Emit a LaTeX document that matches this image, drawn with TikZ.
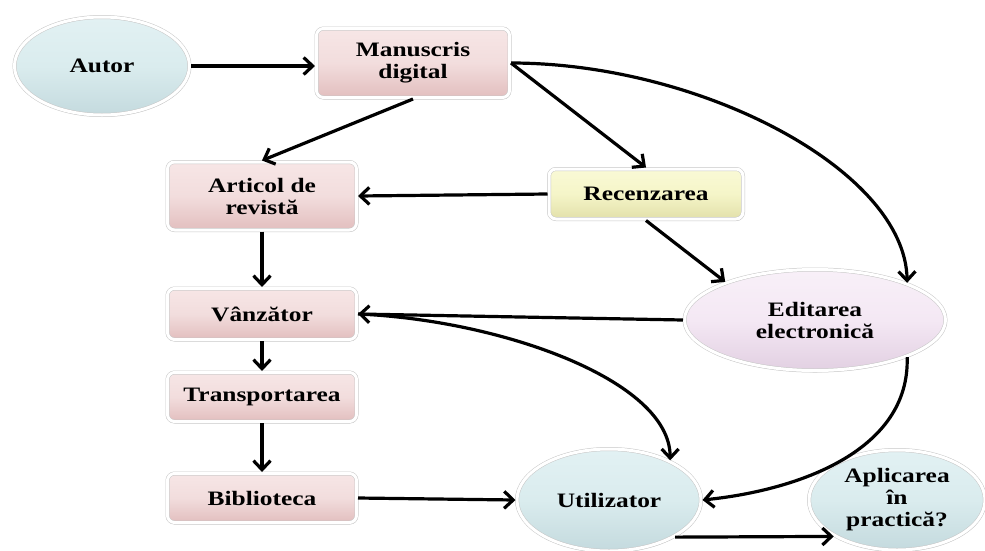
\documentclass[tikz,border=0pt]{standalone}
\usepackage{fontspec}
\setmainfont{Liberation Serif}[FakeStretch=1.24]
\usetikzlibrary{arrows.meta,shapes.geometric,shadows}
\definecolor{pk}{RGB}{242,221,221}
\definecolor{pkL}{RGB}{247,230,230}
\definecolor{pkD}{RGB}{226,190,190}
\definecolor{yl}{RGB}{245,245,200}
\definecolor{ylL}{RGB}{249,249,214}
\definecolor{ylD}{RGB}{226,224,170}
\definecolor{bl}{RGB}{218,236,238}
\definecolor{blL}{RGB}{226,241,243}
\definecolor{blD}{RGB}{196,218,222}
\definecolor{pu}{RGB}{244,232,244}
\definecolor{puL}{RGB}{248,240,248}
\definecolor{puD}{RGB}{226,208,226}
\begin{document}
\begin{tikzpicture}[x=1pt,y=-1pt,
  lbl/.style={font=\fontsize{20.5}{22}\selectfont\bfseries, align=center, inner sep=0pt, outer sep=1.5pt},
  halo/.style={draw=gray!45, line width=0.5pt, double=white, double distance=3pt},
  shad/.style={drop shadow={opacity=0.22, shadow xshift=0.8pt, shadow yshift=-1.8pt}},
  pbox/.style={lbl, halo, shad, rectangle, rounded corners=7pt, top color=pkL, bottom color=pkD, middle color=pk},
  ybox/.style={lbl, halo, shad, rectangle, rounded corners=7pt, top color=ylL, bottom color=ylD, middle color=yl},
  bell/.style={lbl, halo, shad, ellipse, top color=blL, bottom color=blD, middle color=bl},
  pell/.style={lbl, halo, shad, ellipse, top color=puL, bottom color=puD, middle color=pu},
  arr/.style={line width=3.2pt, -{Straight Barb[length=9pt,width=17pt]}}
]
\useasboundingbox (0,0) rectangle (985,550);
\clip (0,0) rectangle (985,550);

\node[bell, minimum width=175, minimum height=98] (au) at (102,66) {Autor};
\node[pbox, minimum width=193, minimum height=69] (ms) at (413,63) {Manuscris\\digital};
\node[pbox, minimum width=189, minimum height=68] (ar) at (262,196) {Articol de\\revistă};
\node[ybox, minimum width=194, minimum height=50] (re) at (646,194) {Recenzarea};
\node[pbox, minimum width=189, minimum height=51] (va) at (262,314) {Vânzător};
\node[pbox, minimum width=189, minimum height=49] (tr) at (262,397) {Transportarea};
\node[pbox, minimum width=189, minimum height=49] (bi) at (262,498) {Biblioteca};
\node[pell, minimum width=261, minimum height=101] (ed) at (815,320) {Editarea\\electronică};
\node[bell, minimum width=184, minimum height=102] (ut) at (609,500) {Utilizator};
\node[bell, minimum width=176, minimum height=100] (ap) at (897,500) {Aplicarea\\în\\practică?};

\draw[arr] (au.east) -- (ms.west |- au.east);
\draw[arr] (ms.south) -- (ar.north);
\draw[arr] (ms.east) -- (re.north);
\draw[arr] (ms.east) .. controls (700,63) and (905,170) .. (ed.22);
\draw[arr] (re.west) -- (ar.east);
\draw[arr] (re.south) -- (ed.157);
\draw[arr] (ar.south) -- (va.north);
\draw[arr] (ed.west) -- (va.east);
\draw[arr] (va.east) .. controls (500,320) and (670,380) .. (ut.33);
\draw[arr] (va.south) -- (tr.north);
\draw[arr] (tr.south) -- (bi.north);
\draw[arr] (ed.-22) .. controls (910,450) and (800,490) .. (ut.east);
\draw[arr] (bi.east) -- (ut.west);
\draw[arr] (ut.south east) -- (ap.south west);
\end{tikzpicture}
\end{document}
